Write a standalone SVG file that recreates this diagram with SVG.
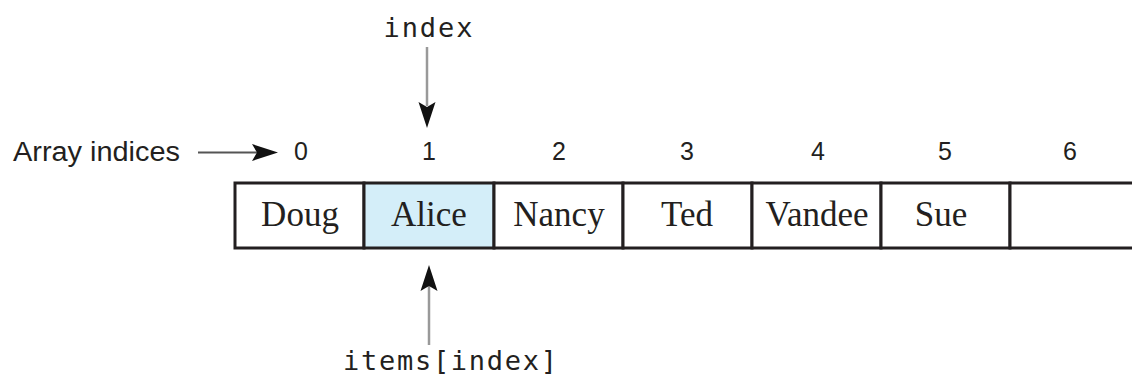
<svg xmlns="http://www.w3.org/2000/svg" width="1132" height="384" viewBox="0 0 1132 384">
<style>
.cell{fill:#ffffff;stroke:#231f20;stroke-width:3}
.sel{fill:#d4eef9}
.val{font-family:"Liberation Serif","Times New Roman",serif;font-size:35px;fill:#231f20;text-anchor:middle}
.idx{font-family:"Liberation Sans",Arial,sans-serif;font-size:25px;fill:#231f20;text-anchor:middle}
.lbl{font-family:"Liberation Sans",Arial,sans-serif;font-size:27px;fill:#231f20}
.code{font-family:"DejaVu Sans Mono","Liberation Mono",monospace;font-size:27px;fill:#231f20;text-anchor:middle}
.conn{stroke:#999999;stroke-width:2.5;fill:none}
.conn-dark{stroke:#555555;stroke-width:2;fill:none}
.head{fill:#111111}
</style>
<defs>
<path id="ahead" d="M0,0 L-26,-8.5 L-21,0 L-26,8.5 Z"/>
</defs>
<rect width="1132" height="384" fill="#ffffff"/>
<g id="label-array-indices">
<text class="lbl" x="13" y="161" textLength="167" lengthAdjust="spacingAndGlyphs">Array indices</text>
</g>
<g id="indices">
<text class="idx" x="301" y="160">0</text>
<text class="idx" x="429" y="160">1</text>
<text class="idx" x="559" y="160">2</text>
<text class="idx" x="687" y="160">3</text>
<text class="idx" x="818" y="160">4</text>
<text class="idx" x="945" y="160">5</text>
<text class="idx" x="1070" y="160">6</text>
</g>
<g id="array">
<g id="cell0"><rect class="cell" x="235" y="183" width="129" height="65"/><text class="val" x="300" y="226">Doug</text></g>
<g id="cell1"><rect class="cell sel" x="364" y="183" width="130" height="65"/><text class="val" x="429" y="226">Alice</text></g>
<g id="cell2"><rect class="cell" x="494" y="183" width="129" height="65"/><text class="val" x="559" y="226">Nancy</text></g>
<g id="cell3"><rect class="cell" x="623" y="183" width="129" height="65"/><text class="val" x="687" y="226">Ted</text></g>
<g id="cell4"><rect class="cell" x="752" y="183" width="129" height="65"/><text class="val" x="817" y="226">Vandee</text></g>
<g id="cell5"><rect class="cell" x="881" y="183" width="129" height="65"/><text class="val" x="941" y="226">Sue</text></g>
<g id="cell6"><rect class="cell" x="1010" y="183" width="140" height="65"/></g>
</g>
<g id="label-index">
<text class="code" x="428" y="37" textLength="89" lengthAdjust="spacing">index</text>
</g>
<g id="label-items-index">
<text class="code" x="450" y="370" textLength="214" lengthAdjust="spacing">items[index]</text>
</g>
<g id="connectors">
<line class="conn-dark" x1="198" y1="152.5" x2="258" y2="152.5"/>
<use href="#ahead" class="head" transform="translate(278,152.5)"/>
<line class="conn" x1="427" y1="47" x2="427" y2="106"/>
<use href="#ahead" class="head" transform="translate(427,128) rotate(90)"/>
<line class="conn" x1="429" y1="345" x2="429" y2="285"/>
<use href="#ahead" class="head" transform="translate(429,265) rotate(-90)"/>
</g>
</svg>
